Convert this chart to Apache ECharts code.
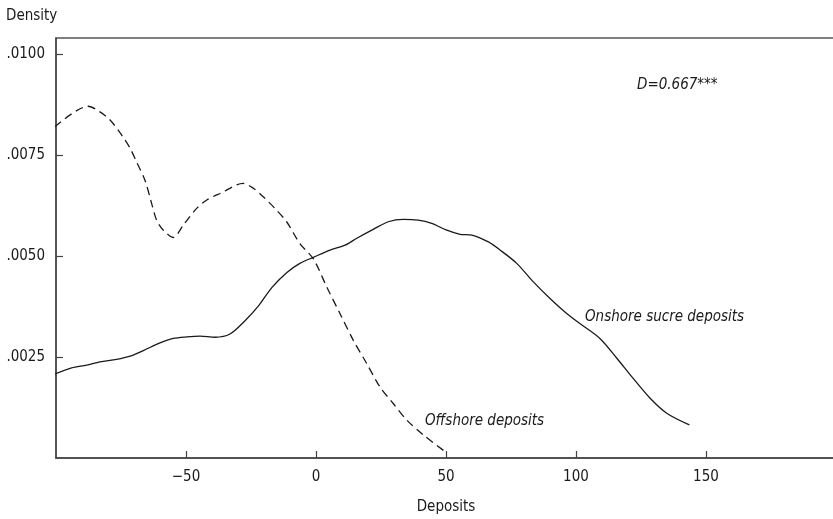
<!DOCTYPE html>
<html>
<head>
<meta charset="utf-8">
<title>Deposit densities</title>
<script src="https://cdn.jsdelivr.net/npm/echarts@6/dist/echarts.min.js"></script>
<style>
  html, body { margin: 0; padding: 0; background: #fff; }
  #chart { width: 833px; height: 519px; }
</style>
</head>
<body>
<div id="chart"></div>
<script>
// Kernel density estimates: deposit amount (x) against density (y)
const onshoreX = [-100.4, -94, -88.2, -83.1, -76.7, -71.5, -66.4, -60, -54.9, -49.7, -44.6, -38.8, -33.1,
  -27.3, -22.2, -17, -11.3, -6.2, -1, 5.4, 11.2, 15.7, 22, 27.8, 33.6, 39.3, 44.5, 50.3, 55.4, 59.9,
  66.3, 70.8, 77.2, 83.6, 90, 96.4, 101.5, 109.2, 115.7, 122, 128.5, 134.9, 143.6];
const onshoreY = [0.00208, 0.00223, 0.00230, 0.00238, 0.00244, 0.00252, 0.00266, 0.00285, 0.00296, 0.00300,
  0.00302, 0.00299, 0.00307, 0.00340, 0.00376, 0.00422, 0.00459, 0.00482, 0.00497, 0.00515, 0.00527,
  0.00544, 0.00566, 0.00585, 0.00591, 0.00589, 0.00581, 0.00564, 0.00554, 0.00552, 0.00535, 0.00515,
  0.00482, 0.00436, 0.00395, 0.00358, 0.00333, 0.00296, 0.00247, 0.00197, 0.00148, 0.00111, 0.00082];

const offshoreX = [-100.4, -87.6, -83.1, -79.2, -74.7, -71.5, -69, -65.8, -63.2, -61.3, -58.7, -54.9, -51,
  -45.9, -42, -36.9, -28, -24.1, -20.3, -15.8, -11.3, -6.2, -1, 4.1, 9.2, 14.3, 19.5, 24.6, 29.7,
  34.9, 41.3, 49.6];
const offshoreY = [0.00820, 0.00871, 0.00857, 0.00837, 0.00799, 0.00767, 0.00733, 0.00688, 0.00630, 0.00589,
  0.00564, 0.00546, 0.00577, 0.00618, 0.00639, 0.00655, 0.00680, 0.00668, 0.00647, 0.00618, 0.00585,
  0.00531, 0.00493, 0.00424, 0.00358, 0.00292, 0.00234, 0.00176, 0.00135, 0.00094, 0.00057, 0.00016];

const xTicks = [-100, 200, 50];       // min, max, step of the deposits axis
const yTicks = [0, 0.0104, 0.0025];   // min, max, step of the density axis

const FONT = '"DejaVu Sans Condensed", "Liberation Sans", sans-serif';
const INK = '#1a1a1a';
const SIZE = 15;

const pairs = (xs, ys) => xs.map((x, i) => [x, ys[i]]);

const chart = echarts.init(document.getElementById('chart'), null, { renderer: 'canvas' });

chart.setOption({
  animation: false,
  backgroundColor: '#fff',
  grid: {
    show: true,
    left: 56, top: 38, width: 780, height: 420,
    outerBoundsMode: 'none',
    containLabel: false,
    borderColor: '#555', borderWidth: 1.4,
    backgroundColor: 'transparent'
  },
  xAxis: {
    type: 'value',
    min: xTicks[0], max: xTicks[1], interval: xTicks[2],
    name: 'Deposits', nameLocation: 'middle', nameGap: 42,
    nameTextStyle: { fontFamily: FONT, fontSize: SIZE, color: INK },
    axisLine: { onZero: false, lineStyle: { color: '#444', width: 1.5 } },
    axisTick: { inside: true, length: 7, lineStyle: { color: '#444', width: 1.2 } },
    splitLine: { show: false },
    axisLabel: {
      showMinLabel: false, showMaxLabel: false, margin: 12,
      fontFamily: FONT, fontSize: SIZE, color: INK,
      formatter: v => String(v).replace('-', '\u2212')
    }
  },
  yAxis: {
    type: 'value',
    min: yTicks[0], max: yTicks[1], interval: yTicks[2],
    axisLine: { show: true, onZero: false, lineStyle: { color: '#444', width: 1.5 } },
    axisTick: { show: true, inside: true, length: 7, lineStyle: { color: '#444', width: 1.2 } },
    splitLine: { show: false },
    axisLabel: {
      showMinLabel: false, showMaxLabel: false, margin: 11,
      fontFamily: FONT, fontSize: SIZE, color: INK,
      formatter: v => v.toFixed(4).replace(/^0/, '')
    }
  },
  series: [
    {
      name: 'Onshore sucre deposits', type: 'line', data: pairs(onshoreX, onshoreY),
      showSymbol: false, smooth: 0.3,
      lineStyle: { color: INK, width: 1.3 }
    },
    {
      name: 'Offshore deposits', type: 'line', data: pairs(offshoreX, offshoreY),
      showSymbol: false, smooth: 0.3,
      lineStyle: { color: INK, width: 1.3, type: [8, 5] }
    }
  ],
  graphic: [
    { type: 'text', left: 6, top: 9,
      style: { text: 'Density', fill: INK, font: SIZE + 'px ' + FONT } },
    { type: 'text', left: 637, top: 78,
      style: { text: 'D=0.667***', fill: INK, font: 'italic ' + SIZE + 'px ' + FONT } },
    { type: 'text', left: 585, top: 310,
      style: { text: 'Onshore sucre deposits', fill: INK, font: 'italic ' + SIZE + 'px ' + FONT } },
    { type: 'text', left: 425, top: 414,
      style: { text: 'Offshore deposits', fill: INK, font: 'italic ' + SIZE + 'px ' + FONT } }
  ]
});
</script>
</body>
</html>
